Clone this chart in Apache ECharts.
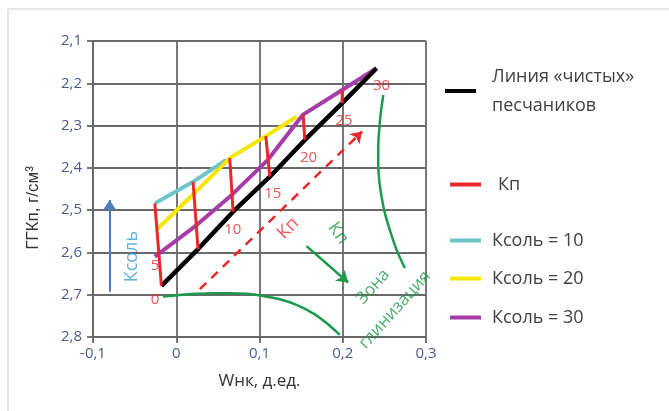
<!DOCTYPE html>
<html>
<head>
<meta charset="utf-8">
<script src="https://cdn.jsdelivr.net/npm/echarts@6/dist/echarts.min.js"></script>
<style>
html,body{margin:0;padding:0;background:#fff;}
#chart{width:669px;height:411px;}
</style>
</head>
<body>
<div id="chart"></div>
<script>
// ---- data (Wнк, ГГКп) ----
const kpLabels = ['0','5','10','15','20','25','30'];
// points of the "clean sandstone" line at each Kп value
const cleanX = [-0.0178, 0.0262, 0.0683, 0.1124, 0.1545, 0.1993, 0.2406];
const cleanY = [2.679, 2.592, 2.5036, 2.421, 2.334, 2.247, 2.1645];
// upper ends of the Kп segments
const topX = [-0.0257, 0.0202, 0.0643, 0.1076, 0.1524, 0.1993, 0.2406];
const topY = [2.484, 2.433, 2.377, 2.325, 2.274, 2.216, 2.1645];
// Ксоль curves
const sol10X = [-0.0257, 0.0202, 0.060];
const sol10Y = [2.484, 2.433, 2.381];
const sol20X = [-0.0238, 0.0222, 0.0643, 0.1076, 0.1445];
const sol20Y = [2.547, 2.459, 2.377, 2.325, 2.279];
const sol30X = [-0.0258, 0.0234, 0.0667, 0.110, 0.1524, 0.1993, 0.2406];
const sol30Y = [2.610, 2.537, 2.464, 2.381, 2.274, 2.216, 2.1645];
// Kп label anchor positions
const kpLabelX = [-0.0256, -0.0256, 0.068, 0.116, 0.159, 0.2015, 0.2465];
const kpLabelY = [2.712, 2.632, 2.547, 2.462, 2.377, 2.289, 2.206];
// green zone boundaries
const zoneBottomX = [-0.0159, 0.0042, 0.0243, 0.0442, 0.0643, 0.0844, 0.1043, 0.1244, 0.1445, 0.1644, 0.1805, 0.1965];
const zoneBottomY = [2.7045, 2.7005, 2.698, 2.6965, 2.6965, 2.698, 2.703, 2.7107, 2.724, 2.744, 2.767, 2.795];
const zoneRightX = [0.2487, 0.2456, 0.2438, 0.2426, 0.2426, 0.2438, 0.2466, 0.2506, 0.2566, 0.2647, 0.2746];
const zoneRightY = [2.2277, 2.271, 2.310, 2.350, 2.389, 2.429, 2.468, 2.507, 2.547, 2.594, 2.637];
// arrows [x1,y1,x2,y2]
const arrowKpRed = [0.0283, 2.687, 0.2233, 2.314];
const arrowKpGreen = [0.1565, 2.585, 0.2065, 2.671];
const arrowSol = [-0.08, 2.693, -0.08, 2.476];
// axis ticks
const xTicks = [-0.1, 0, 0.1, 0.2, 0.3];
const yTicks = [2.1, 2.2, 2.3, 2.4, 2.5, 2.6, 2.7, 2.8];

const zip = (xs, ys) => xs.map((x, i) => [x, ys[i]]);
const FONT = '"Open Sans", "Noto Sans", sans-serif';
const RED = '#e8282a', GREEN = '#1a9a4a';

const kpSeries = cleanX.map((x, i) => ({
  name: 'Кп', type: 'line', symbol: 'none', z: 6,
  lineStyle: {color: RED, width: 3}, itemStyle: {color: RED},
  data: [[x, cleanY[i]], [topX[i], topY[i]]]
}));

function textSeries(items, color, size, rotate) {
  return {
    type: 'scatter', symbolSize: 0, z: 8, silent: true,
    label: {show: true, position: 'inside', formatter: p => p.name, color: color,
      fontSize: size, fontFamily: FONT, rotate: rotate || 0},
    data: items
  };
}
function arrow(a, color, width, dashed) {
  return {
    type: 'lines', coordinateSystem: 'cartesian2d', z: 5, silent: true,
    symbol: ['none', 'arrow'], symbolSize: 11,
    lineStyle: {color: color, width: width, type: dashed ? [9, 7] : 'solid', opacity: 1},
    data: [{coords: [[a[0], a[1]], [a[2], a[3]]]}]
  };
}

const legendBase = {
  orient: 'vertical', left: 440, icon: 'rect', itemWidth: 31, itemHeight: 4,
  textStyle: {fontSize: 18, color: '#404040', fontFamily: FONT, padding: [0, 0, 0, 11], lineHeight: 29},
  selectedMode: false
};
const legendSmall = Object.assign({}, legendBase, {left: 445,
  textStyle: Object.assign({}, legendBase.textStyle, {padding: [0, 0, 0, 6]})});

const chart = echarts.init(document.getElementById('chart'), null, {renderer: 'canvas'});
chart.setOption({
  animation: false,
  backgroundColor: '#fff',
  grid: {left: 93, right: 243, top: 41, bottom: 74},
  legend: [
    Object.assign({}, legendBase, {top: 57, data: ['Линия «чистых»\nпесчаников']}),
    Object.assign({}, legendBase, {top: 165, left: 445, data: ['Кп'], textStyle: Object.assign({}, legendBase.textStyle, {padding: [0,0,0,12]})}),
    Object.assign({}, legendSmall, {top: 221, data: ['Ксоль = 10']}),
    Object.assign({}, legendSmall, {top: 259, data: ['Ксоль = 20']}),
    Object.assign({}, legendSmall, {top: 298, data: ['Ксоль = 30']})
  ],
  xAxis: {
    type: 'value', min: xTicks[0], max: xTicks[xTicks.length - 1], interval: 0.1,
    name: 'Wнк, д.ед.', nameLocation: 'middle', nameGap: 36,
    nameTextStyle: {fontSize: 17, color: '#333', fontFamily: FONT},
    axisLine: {show: true, onZero: false, lineStyle: {color: '#666', width: 1.8}},
    axisTick: {show: true, length: 6, lineStyle: {color: '#666', width: 1.8}},
    axisLabel: {fontSize: 15, color: '#4a5a92', fontFamily: FONT, margin: 9,
      formatter: v => Math.abs(v) < 1e-9 ? '0' : v.toFixed(1).replace('.', ',')},
    splitLine: {show: true, lineStyle: {color: '#6a6a6a', width: 1.8}}
  },
  yAxis: {
    type: 'value', inverse: true, min: yTicks[0], max: yTicks[yTicks.length - 1], interval: 0.1,
    axisLine: {show: true, onZero: false, lineStyle: {color: '#666', width: 1.8}},
    axisTick: {show: true, length: 6, lineStyle: {color: '#666', width: 1.8}},
    axisLabel: {fontSize: 15, color: '#4a5a92', fontFamily: FONT, margin: 11,
      formatter: v => v.toFixed(1).replace('.', ',')},
    splitLine: {show: true, lineStyle: {color: '#6a6a6a', width: 1.8}}
  },
  graphic: [
    {type: 'line', shape: {x1: 8, y1: 9, x2: 669, y2: 9}, style: {stroke: '#dedede', lineWidth: 1.5}, silent: true},
    {type: 'line', shape: {x1: 8, y1: 9, x2: 8, y2: 411}, style: {stroke: '#dedede', lineWidth: 1.5}, silent: true},
    {type: 'text', x: 33, y: 208, rotation: Math.PI / 2, silent: true,
      style: {text: 'ГГКп, г/см³', fontSize: 17, fill: '#333', font: '17px ' + FONT, align: 'center', verticalAlign: 'middle'}}
  ],
  series: [
    {name: 'Ксоль = 10', type: 'line', symbol: 'none', z: 3, data: zip(sol10X, sol10Y),
      lineStyle: {color: '#6cc5c8', width: 4}, itemStyle: {color: '#6cc5c8'}},
    {name: 'Ксоль = 20', type: 'line', symbol: 'none', z: 3, data: zip(sol20X, sol20Y),
      lineStyle: {color: '#f7e600', width: 4}, itemStyle: {color: '#f7e600'}},
    {name: 'Ксоль = 30', type: 'line', symbol: 'none', z: 4, data: zip(sol30X, sol30Y),
      lineStyle: {color: '#a63ca8', width: 4}, itemStyle: {color: '#a63ca8'}},
    {name: 'Линия «чистых»\nпесчаников', type: 'line', symbol: 'none', z: 5, data: zip(cleanX, cleanY),
      lineStyle: {color: '#000', width: 4.5}, itemStyle: {color: '#000'}},
    ...kpSeries,
    {type: 'line', symbol: 'none', smooth: 0.3, z: 4, silent: true, data: zip(zoneBottomX, zoneBottomY),
      lineStyle: {color: GREEN, width: 2.5}},
    {type: 'line', symbol: 'none', smooth: 0.3, z: 4, silent: true, data: zip(zoneRightX, zoneRightY),
      lineStyle: {color: GREEN, width: 2.5}},
    arrow(arrowKpRed, RED, 2.5, true),
    arrow(arrowKpGreen, GREEN, 2.5, false),
    arrow(arrowSol, '#4a7db8', 2, false),
    textSeries(kpLabels.map((t, i) => ({name: t, value: [kpLabelX[i], kpLabelY[i]]})), RED, 15, 0),
    textSeries([{name: 'Кп', value: [0.1344, 2.543]}], RED, 18, 45),
    textSeries([{name: 'Кп', value: [0.1945, 2.555]}], GREEN, 18, -55),
    textSeries([{name: 'Зона', value: [0.2366, 2.681]}, {name: 'глинизация', value: [0.2626, 2.736]}], GREEN, 17, 48),
    textSeries([{name: 'Ксоль', value: [-0.0535, 2.61]}], '#3a9ad9', 18, 90)
  ]
});
</script>
</body>
</html>
